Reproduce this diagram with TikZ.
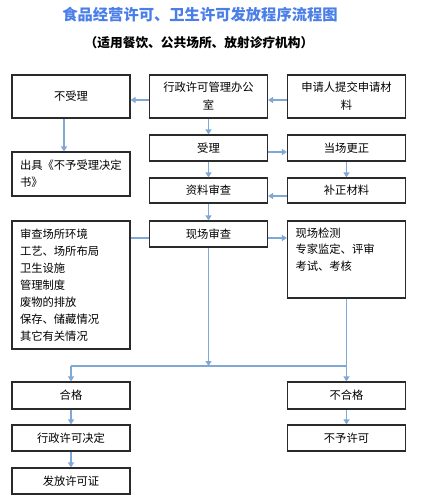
\documentclass[tikz,border=0pt]{standalone}
\usepackage{fontspec}
\setmainfont{Noto Sans CJK SC}
\usetikzlibrary{arrows.meta}
\definecolor{lineblue}{HTML}{7FA8D6}
\definecolor{titleblue}{HTML}{4A7EE8}
\definecolor{boxline}{HTML}{2A2A2A}
\begin{document}
\begin{tikzpicture}[x=1pt,y=-1pt,
  box/.style={draw=boxline, line width=1.2pt, minimum width=118pt, inner sep=0pt,
    font=\fontsize{11.3}{18}\selectfont, align=center},
  lbox/.style={draw=boxline, line width=1.2pt, text width=102pt, inner xsep=8pt, inner ysep=0pt,
    font=\fontsize{11.3}{17}\selectfont, align=left},
  conn/.style={draw=lineblue, line width=1.2pt},
  arr/.style={conn, -{Triangle[length=5pt,width=6pt]}}]
\useasboundingbox (0,0) rectangle (421,500);
\fill[white] (0,0) rectangle (421,500);
% titles
\node[font=\fontsize{15.3}{18}\selectfont\bfseries, text=titleblue] (title) at (200,15) {食品经营许可、卫生许可发放程序流程图};
\node[font=\fontsize{12.7}{15}\selectfont\bfseries] (subtitle) at (199,43) {（适用餐饮、公共场所、放射诊疗机构）};
% row 1
\node[box, minimum height=43pt] (nosl) at (71,96.5) {不受理};
\node[box, minimum height=43pt] (office) at (208.5,96.5) {行政许可管理办公\\室};
\node[box, minimum height=43pt] (apply) at (346.5,96.5) {申请人提交申请材\\料};
% row 2
\node[box, minimum height=26pt] (accept) at (208.5,148) {受理};
\node[box, minimum height=26pt] (correct) at (346.5,148) {当场更正};
\node[lbox, minimum height=44pt] (notice) at (71,174) {出具《不予受理决定\\书》};
% row 3
\node[box, minimum height=25pt] (docrev) at (208.5,190.5) {资料审查};
\node[box, minimum height=25pt] (supp) at (346.5,190.5) {补正材料};
% row 4
\node[box, minimum height=26pt] (site) at (208.5,234) {现场审查};
\node[lbox, minimum height=128pt] (list) at (71,285) {审查场所环境\\工艺、场所布局\\卫生设施\\管理制度\\废物的排放\\保存、储藏情况\\其它有关情况};
\node[lbox, minimum height=77pt, font=\fontsize{11.3}{16.5}\selectfont] (test) at (346.5,259.5) {现场检测\\专家监定、评审\\考试、考核\\\strut};
% results
\node[box, minimum height=27pt] (pass) at (71,395.5) {合格};
\node[box, minimum height=27pt] (fail) at (346.5,395.5) {不合格};
\node[box, minimum height=26pt] (decide) at (71,438) {行政许可决定};
\node[box, minimum height=26pt] (nogrant) at (346.5,438) {不予许可};
\node[box, minimum height=26pt] (issue) at (71,481) {发放许可证};
% junction coordinates
\coordinate (junc) at (208.5,366);
\coordinate (jl) at (71,366);
\coordinate (jr) at (346.5,366);
% connectors
\draw[arr] ([yshift=-3.5pt]office.west) -- ([yshift=-3.5pt]nosl.east);
\draw[arr] ([yshift=-3.5pt]apply.west) -- ([yshift=-3.5pt]office.east);
\draw[arr] ([xshift=-7pt]nosl.south) -- ([xshift=-7pt]notice.north);
\draw[arr] (office.south) -- (accept.north);
\draw[arr] ([yshift=-4pt]accept.east) -- ([yshift=-4pt]correct.west);
\draw[arr] (accept.south) -- (docrev.north);
\draw[arr] (correct.south) -- (supp.north);
\draw[arr] ([yshift=-5.5pt]supp.west) -- ([yshift=-5.5pt]docrev.east);
\draw[arr] (docrev.south) -- (site.north);
\draw[conn] ([yshift=-4pt]site.west) -- ([yshift=-4pt]site.west -| list.east);
\draw[arr] ([yshift=-4pt]site.east) -- ([yshift=-4pt]site.east -| test.west);
\draw[arr] (site.south) -- (junc);
\draw[conn] (jl) -- (jr);
\draw[arr] (test.south) -- (jr) -- (fail.north);
\draw[arr] (jl) -- (pass.north);
\draw[arr] (pass.south) -- (decide.north);
\draw[arr] (decide.south) -- (issue.north);
\draw[arr] (fail.south) -- (nogrant.north);
\end{tikzpicture}
\end{document}
